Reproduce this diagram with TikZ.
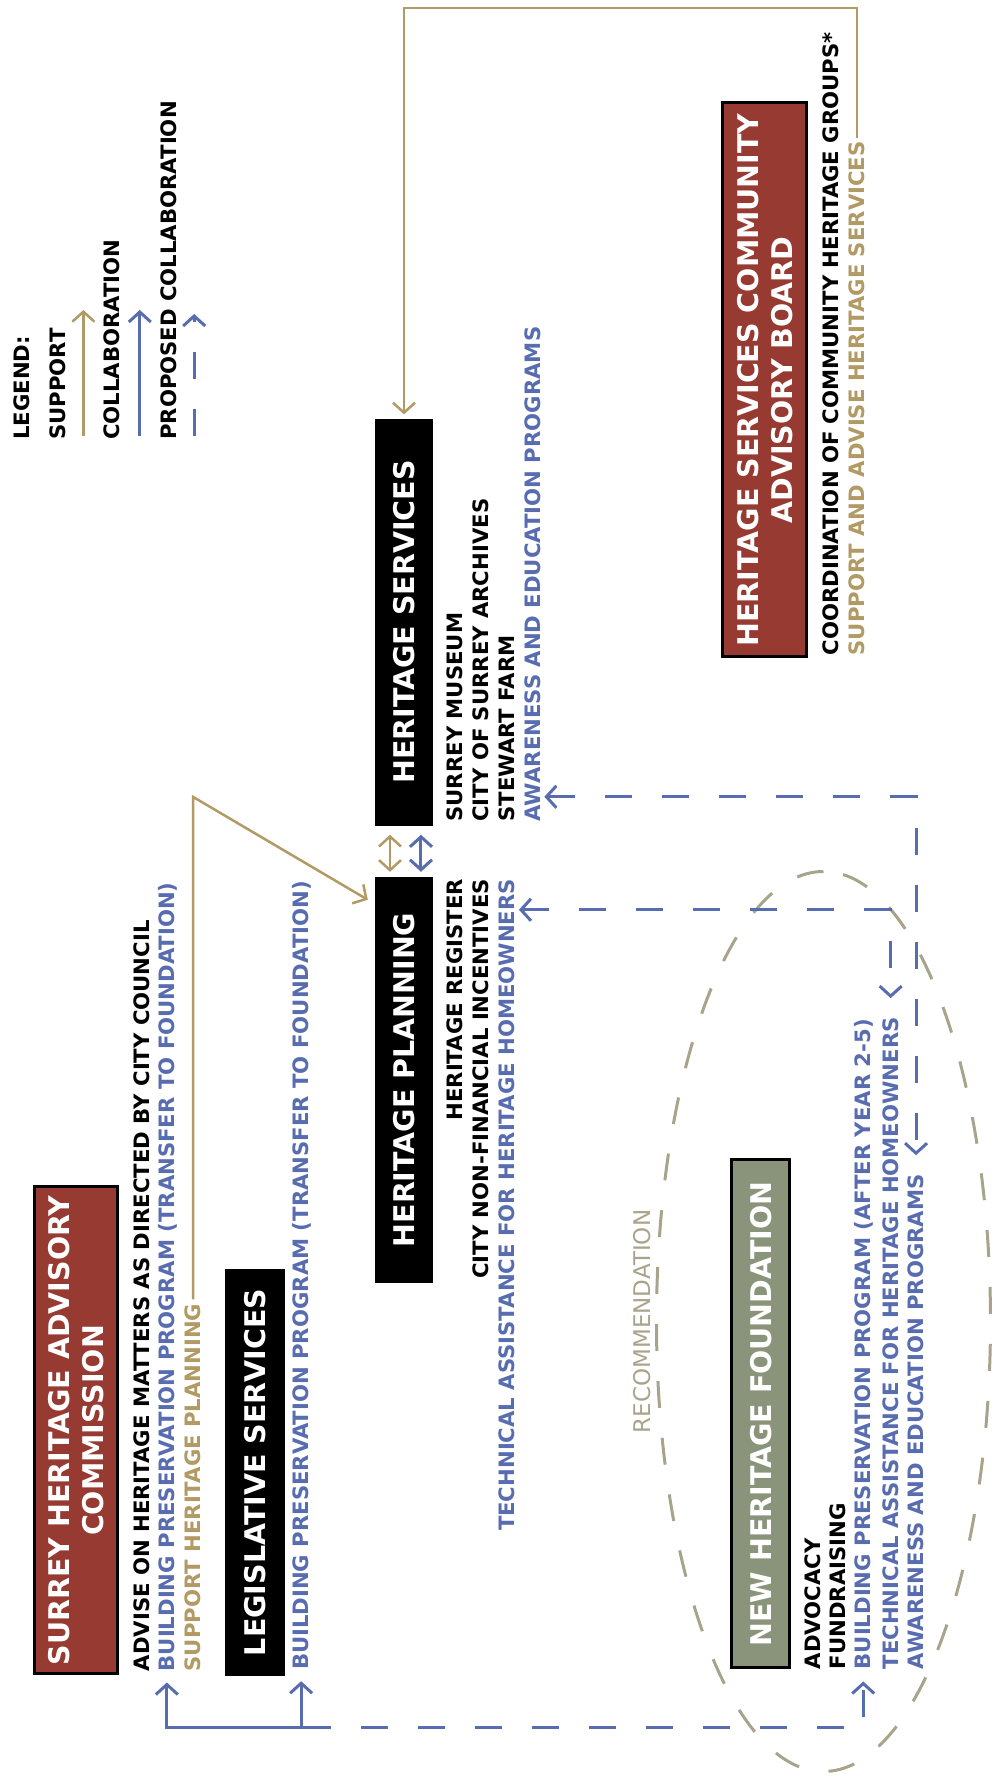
\documentclass[tikz,border=0pt]{standalone}
\usepackage{fontspec}
\setmainfont{DejaVu Sans}
\usetikzlibrary{arrows.meta,positioning}

\definecolor{suppgold}{RGB}{178,154,100}
\definecolor{collabblue}{RGB}{88,108,176}
\definecolor{boxred}{RGB}{150,58,50}
\definecolor{boxgreen}{RGB}{138,148,122}
\definecolor{recgrey}{RGB}{168,164,140}

\newcommand{\bodyfont}{\fontsize{21.2}{25}\selectfont\bfseries}
\newcommand{\titlefont}{\fontsize{28.5}{34}\selectfont\bfseries}

\tikzset{
  orgbox/.style={text=white, font=\titlefont, align=center, inner sep=0pt},
  redbox/.style={orgbox, fill=boxred, draw=black, line width=3pt},
  blackbox/.style={orgbox, fill=black},
  greenbox/.style={orgbox, fill=boxgreen, draw=black, line width=3pt},
  txt/.style={inner sep=0pt, text height=15.5pt, text depth=0pt, font=\bodyfont},
  supp/.style={draw=suppgold, line width=2.5pt},
  collab/.style={draw=collabblue, line width=3pt},
  propcollab/.style={collab, dash pattern=on 27pt off 30pt},
  recom/.style={draw=recgrey, line width=3pt, dash pattern=on 27pt off 30pt}
}

\begin{document}
\begin{tikzpicture}[x=1pt,y=1pt,rotate=90,transform shape,>={Straight Barb[length=10pt,width=22pt]}]
\useasboundingbox (0,0) rectangle (1785,996);

% boxes
\node[blackbox, minimum width=406pt, minimum height=58pt] (HP) at (705,592) {HERITAGE PLANNING};
\node[blackbox, minimum width=407pt, minimum height=58pt, right=51pt of HP] (HS) {HERITAGE SERVICES};
\node[redbox, minimum width=487pt, minimum height=83pt] (SHAC) at (354.5,919.5) {SURREY HERITAGE ADVISORY\\COMMISSION};
\node[blackbox, minimum width=407pt, minimum height=60pt] (LS) at (312.5,741) {LEGISLATIVE SERVICES};
\node[greenbox, minimum width=508pt, minimum height=58pt] (NHF) at (371,235) {NEW HERITAGE FOUNDATION};
\node[redbox, minimum width=554pt, minimum height=84pt] (HSCAB) at (1405,231) {HERITAGE SERVICES COMMUNITY\\ADVISORY BOARD};

% commission
\node[txt, below right=14pt and 4pt of SHAC.south west] (shacadv) {ADVISE ON HERITAGE MATTERS AS DIRECTED BY CITY COUNCIL};
\node[txt, text=collabblue, below right=9.5pt and 0pt of shacadv.south west] (shacbpp) {BUILDING PRESERVATION PROGRAM (TRANSFER TO FOUNDATION)};
\node[txt, text=suppgold, below right=10.5pt and 0pt of shacbpp.south west] (shacsup) {SUPPORT HERITAGE PLANNING};

% legislative services
\node[txt, text=collabblue, below right=8pt and 6pt of LS.south west] (lsbpp) {BUILDING PRESERVATION PROGRAM (TRANSFER TO FOUNDATION)};

% foundation
\node[txt, below right=13pt and 0pt of NHF.south west] (nhfadv) {ADVOCACY};
\node[txt, below right=9.5pt and 0pt of nhfadv.south west] (nhffund) {FUNDRAISING};
\node[txt, text=collabblue, below right=9.5pt and 0pt of nhffund.south west] (nhfbpp) {BUILDING PRESERVATION PROGRAM (AFTER YEAR 2-5)};
\node[txt, text=collabblue, below right=11.5pt and 0pt of nhfbpp.south west] (nhftech) {TECHNICAL ASSISTANCE FOR HERITAGE HOMEOWNERS};
\node[txt, text=collabblue, below right=9.5pt and 0pt of nhftech.south west] (nhfaware) {AWARENESS AND EDUCATION PROGRAMS};

% heritage planning
\node[txt, below left=14pt and 2pt of HP.south east] (hpreg) {HERITAGE REGISTER};
\node[txt, below left=9.5pt and 0pt of hpreg.south east] (hpinc) {CITY NON-FINANCIAL INCENTIVES};
\node[txt, text=collabblue, below left=10.5pt and 0pt of hpinc.south east] (hptech) {TECHNICAL ASSISTANCE FOR HERITAGE HOMEOWNERS};

% heritage services
\node[txt, below right=14pt and 4pt of HS.south west] (hsmus) {SURREY MUSEUM};
\node[txt, below right=9.5pt and 0pt of hsmus.south west] (hsarch) {CITY OF SURREY ARCHIVES};
\node[txt, below right=10.5pt and 0pt of hsarch.south west] (hsfarm) {STEWART FARM};
\node[txt, text=collabblue, below right=9.5pt and 0pt of hsfarm.south west] (hsaware) {AWARENESS AND EDUCATION PROGRAMS};

% advisory board
\node[txt, below right=14pt and 3pt of HSCAB.south west] (hscabco) {COORDINATION OF COMMUNITY HERITAGE GROUPS*};
\node[txt, text=suppgold, below right=10.5pt and 0pt of hscabco.south west] (hscabsup) {SUPPORT AND ADVISE HERITAGE SERVICES};

% recommendation
\draw[recom] (463.5,172.5) ellipse [x radius=450, y radius=167];
\node[inner sep=0pt, font=\fontsize{23}{25}\selectfont, text=recgrey] (recom) at (463.5,354) {RECOMMENDATION};

% legend
\node[txt, anchor=west] (legtitle) at (1345,974) {LEGEND:};
\node[txt, below right=19.5pt and 0pt of legtitle.south west] (legsup) {SUPPORT};
\node[txt, below right=38.5pt and 0pt of legsup.south west] (legcol) {COLLABORATION};
\node[txt, below right=41.5pt and 0pt of legcol.south west] (legprop) {PROPOSED COLLABORATION};
\draw[supp,->] ([shift={(4pt,-26pt)}]legsup.west) -- ++(126,0);
\draw[collab,->] ([shift={(4pt,-28pt)}]legcol.west) -- ++(126,0);
\draw[propcollab,->] ([shift={(4pt,-25pt)}]legprop.west) -- ++(122,0);

% support
\coordinate (suptop) at (1777,0);
\coordinate (supbend) at (988,0);
\draw[supp,->] ([xshift=3pt]hscabsup.east) -- (hscabsup.east -| suptop) -- (HS.east -| suptop) -- ([xshift=4pt]HS.east);
\draw[supp,->] ([xshift=4pt]shacsup.east) -- (shacsup.east -| supbend) -- ([shift={(-23pt,7pt)}]HP.north east);
\draw[supp,<->,shorten <=5pt,shorten >=9pt] ([yshift=14pt]HP.east) -- ([yshift=14pt]HS.west);

% collaboration
\draw[collab,<->,shorten <=5pt,shorten >=9pt] ([yshift=-17pt]HP.east) -- ([yshift=-17pt]HS.west);
\coordinate (bus) at (57,0);
\draw[collab,<->] ([xshift=-11pt]shacbpp.west) -- (shacbpp.west -| bus) -- (lsbpp.west -| bus) -- ([xshift=-11pt]lsbpp.west);
\draw[collab] (lsbpp.west -| bus) -- ++(0,-30) coordinate (busend);

% proposed collaboration
\draw[propcollab,dash phase=27pt,->] (busend) -- (nhfbpp.west -| bus) -- ([xshift=-12pt]nhfbpp.west);
\draw[propcollab,<->] ([shift={(-31pt,-12pt)}]hptech.east) |- ([xshift=19pt]nhftech.east);
\draw[propcollab,<->] ([shift={(25pt,-12pt)}]hsaware.west) |- ([xshift=19pt]nhfaware.east);
\end{tikzpicture}
\end{document}
